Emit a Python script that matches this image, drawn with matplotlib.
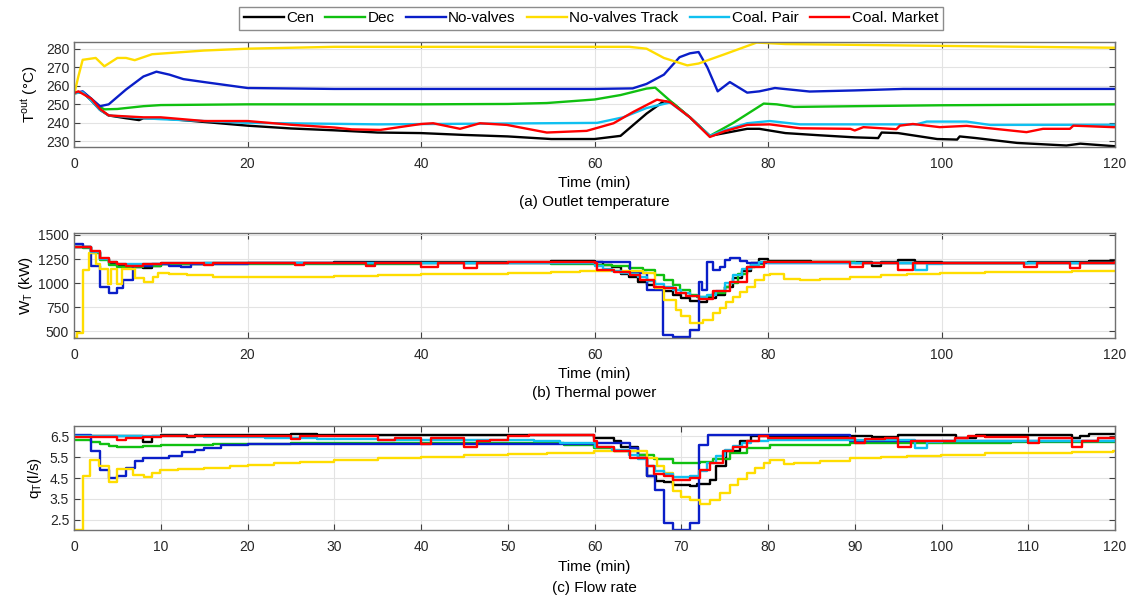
import numpy as np
import matplotlib
matplotlib.use("Agg")
import matplotlib.pyplot as plt

plt.rcParams.update({
    'font.family': ['Liberation Sans', 'DejaVu Sans'],
    'font.size': 10,
    'axes.edgecolor': '#707070',
    'xtick.color': '#404040',
    'ytick.color': '#404040',
    'xtick.labelcolor': '#262626',
    'ytick.labelcolor': '#262626',
})

names = ['Cen', 'Dec', 'No-valves', 'No-valves Track', 'Coal. Pair', 'Coal. Market']
colors = ['#000000', '#10c010', '#0a1ec8', '#ffdd00', '#10c0f0', '#ff0000']

# ---- (a) outlet temperature, (t [min], T [degC])
cen_a = [(0, 256), (1, 256.5), (2, 252), (3, 247), (4, 244), (6, 242.5), (7.5, 241.5), (8, 242.5),
         (10, 242.5), (15, 240.5), (20, 238.5), (25, 237), (30, 236), (35, 234.8), (40, 234.5),
         (45, 233.5), (50, 232.7), (55, 231.3), (60, 231.3), (63, 233), (66, 245), (68, 251.7),
         (69, 250.7), (71, 243), (73.3, 233), (75, 234.5), (77.6, 236.8), (79, 236.8), (82, 234.5),
         (86, 233.3), (90, 232.2), (92.7, 231.8), (93.1, 234.8), (95, 234.5), (99.5, 231.3),
         (101.8, 231), (102.1, 232.7), (104, 231.8), (108.7, 229.2), (114.4, 227.8), (116, 228.8),
         (120, 227.4)]
dec_a = [(0, 256), (1, 256.5), (2, 253), (3, 248.5), (3.5, 247.3), (5, 247.5), (8, 249), (10, 249.6),
         (20, 250), (40, 250), (50, 250.2), (54.5, 250.7), (60, 252.6), (63, 255), (66, 258.5),
         (67, 259), (68.7, 252), (71, 243), (73.3, 233), (76, 240), (79.5, 250.4), (81, 250),
         (83, 248.6), (90, 249), (100, 249.5), (120, 250)]
novalves_a = [(0, 256), (1, 257), (2, 253), (3, 249), (4, 250), (6, 258), (8, 265), (9.5, 267.6),
              (11, 266), (12.6, 263.6), (15, 262), (20, 258.8), (30, 258.3), (60, 258.3), (64.4, 258.6),
              (66, 261), (68, 266), (69.8, 275.4), (71, 277.5), (72, 278.2), (73, 270), (74.2, 257),
              (75.6, 262), (77.6, 256.3), (79, 257), (80.8, 258.8), (84.8, 256.9), (90, 257.5),
              (95.6, 258.3), (120, 258.3)]
track_a = [(0, 255), (0.5, 265), (1, 274), (2.5, 275), (3.5, 270.5), (5, 275), (6, 275), (7, 273.8),
           (9, 277), (12, 278), (15, 279), (20, 280), (30, 281), (64, 281), (66, 280), (68, 275),
           (70.7, 271), (72, 272), (75, 277), (78.7, 283.3), (80, 283), (82, 282.5), (100, 281.5),
           (120, 280.5)]
pair_a = [(0, 256), (1, 256.5), (2, 252), (3, 247), (4, 244), (8, 242.5), (10, 242), (15, 241),
          (20, 240), (30, 239.5), (35, 239.2), (60.3, 240), (63.3, 243), (66, 248), (68.7, 251),
          (71, 243), (73.3, 233), (75, 236), (77.6, 239.8), (80.2, 241), (83.7, 239.2), (97.1, 239.2),
          (98.3, 240.7), (102.9, 240.7), (105.6, 238.9), (120, 239)]
market_a = [(0, 256), (0.5, 257), (2, 253), (3, 247.5), (4, 244), (8, 243), (10, 243), (15, 241),
            (20, 241), (25, 239), (30, 237.5), (32, 236.5), (35.3, 236.2), (40, 239.4), (41.4, 239.8),
            (44.5, 236.8), (46.8, 239.8), (49.9, 238.9), (54.5, 234.8), (59.1, 235.7), (62.2, 239.8),
            (64.5, 246), (67.2, 252.5), (68.7, 251.2), (71, 243), (73.3, 232.4), (75, 235.5),
            (77.6, 238.9), (80.2, 239.2), (83.7, 237.1), (89.5, 236.8), (90, 235.9), (91, 237.7),
            (94.8, 236.6), (95.2, 238.5), (96.7, 239.4), (99.8, 237.7), (102.9, 238.4), (109.8, 235),
            (111.7, 236.8), (114.8, 236.8), (115.2, 238.5), (119.8, 237.7), (120, 237.7)]

# ---- (b) thermal power, (t [min], W [kW])
cen_b = [(0, 1380), (1, 1370), (2, 1320), (3, 1250), (4, 1210), (5, 1190), (6, 1180), (7, 1170),
         (8, 1160), (9, 1180), (10, 1200), (15, 1205), (20, 1210), (30, 1215), (40, 1215), (50, 1220),
         (55, 1225), (60, 1220), (61, 1190), (62, 1172), (63, 1100), (64, 1060), (65, 1017), (66, 983),
         (67, 950), (68, 914), (69, 880), (70, 845), (71, 820), (72, 810), (73, 845), (74, 879),
         (75, 960), (76, 1052), (77, 1130), (78, 1207), (79, 1249), (80, 1225), (85, 1220), (90, 1215),
         (92, 1180), (93, 1215), (95, 1240), (97, 1215), (100, 1205), (105, 1210), (110, 1215),
         (115, 1220), (117, 1225), (120, 1230)]
dec_b = [(0, 1370), (1, 1360), (2, 1310), (3, 1240), (4, 1190), (5, 1170), (6, 1165), (8, 1180),
         (10, 1195), (20, 1200), (40, 1205), (55, 1200), (60, 1185), (62, 1175), (64, 1160),
         (65.6, 1138), (67, 1085), (68, 1035), (69, 985), (69.8, 931), (71, 880), (71.8, 856),
         (73, 870), (73.7, 897), (75, 960), (75.6, 1000), (76.5, 1090), (77.6, 1172), (78.5, 1200),
         (79.5, 1224), (80, 1215), (90, 1210), (120, 1210)]
novalves_b = [(0, 1410), (1, 1380), (2, 1183), (3, 965), (4, 903), (5, 949), (5.7, 1035), (6.8, 1180),
              (9, 1200), (11, 1180), (12.3, 1172), (13.5, 1200), (20, 1205), (40, 1205), (59.9, 1215),
              (64.1, 1104), (66, 931), (67.9, 462), (69.1, 442), (71, 518), (72, 1017), (72.4, 931),
              (73, 1224), (73.7, 1138), (74.5, 1172), (75, 1240), (75.6, 1259), (76.8, 1234),
              (77.6, 1207), (80, 1205), (120, 1205)]
track_b = [(0, 430), (0.35, 480), (1.0, 1140), (1.7, 1310), (2.5, 1200), (3.0, 1150), (3.9, 990),
           (4.3, 1150), (4.9, 990), (5.5, 1150), (7.0, 1052), (8.1, 1017), (9.1, 1060), (9.7, 1110),
           (11, 1095), (13, 1080), (16, 1068), (20, 1060), (25, 1065), (30, 1070), (35, 1080),
           (40, 1090), (45, 1100), (50, 1110), (55, 1120), (58.3, 1131), (64, 1131),
           (65.6, 1104), (67, 949), (68, 828), (69.4, 724), (70, 655), (71, 587), (72.5, 621),
           (73.7, 690), (74.5, 740), (75.2, 800), (76, 862), (76.8, 910), (77.6, 965), (78.5, 1030),
           (79.5, 1086), (80.2, 1096), (81.8, 1042), (83.7, 1035), (86, 1045), (89.5, 1062),
           (93, 1080), (96, 1092), (99.8, 1104), (105, 1112), (110, 1120), (115, 1126), (120, 1131)]
pair_b = [(0, 1380), (1, 1375), (2, 1320), (3, 1250), (4, 1215), (5, 1200), (6, 1195), (8, 1200),
          (10, 1205), (20, 1210), (40, 1210), (60, 1180), (61, 1150), (62, 1130), (63, 1110),
          (64, 1090), (65, 1060), (66, 1020), (67, 990), (68, 965), (69, 930), (70, 900), (71, 870),
          (72, 862), (73, 880), (74, 920), (75, 1000), (76, 1080), (77, 1150), (78, 1190), (79, 1215),
          (80, 1210), (97, 1138), (98.3, 1200), (100, 1205), (120, 1205)]
market_b = [(0, 1380), (1, 1375), (2, 1330), (3, 1260), (4, 1215), (5, 1195), (6, 1180), (8, 1200),
            (10, 1205), (15, 1185), (16, 1205), (20, 1210), (25.5, 1185), (26.5, 1210), (30, 1210),
            (33.7, 1180), (34.7, 1210), (40, 1172), (42, 1210), (45, 1155), (46.5, 1210), (50, 1215),
            (60, 1205), (60.3, 1138), (62.2, 1120), (64.1, 1086), (65.3, 1035), (66.9, 965),
            (68, 949), (69.4, 897), (70.5, 869), (72, 835), (73.7, 914), (75.6, 1017), (77.6, 1172),
            (79.5, 1224), (80, 1215), (89.5, 1165), (91, 1210), (95, 1140), (96.7, 1210), (100, 1205),
            (109.5, 1165), (111, 1210), (114.8, 1160), (116, 1210), (120, 1215)]

# ---- (c) flow rate, (t [min], q [l/s])
cen_c = [(0, 6.5), (8, 6.25), (9, 6.5), (10, 6.55), (13, 6.45), (14, 6.55), (25, 6.6), (28, 6.58),
         (59.9, 6.42), (62.2, 6.26), (63, 6.0), (65, 5.62), (66, 4.58), (67.1, 4.34), (68, 4.31),
         (69.1, 4.15), (71, 4.13), (71.8, 4.22), (73.3, 4.42), (74, 5.06), (75.2, 5.78), (76.8, 6.26),
         (78, 6.5), (92, 6.45), (95, 6.55), (101.7, 6.42), (104, 6.55), (115, 6.4), (116, 6.5),
         (117, 6.6), (120, 6.6)]
dec_c = [(0, 6.35), (2, 6.25), (3, 6.15), (4, 6.05), (5, 6.0), (6, 5.97), (8, 6.02), (10, 6.07),
         (13, 6.1), (16, 6.13), (20, 6.15), (25, 6.17), (30, 6.18), (52.5, 6.2), (56.5, 6.1),
         (59.9, 5.94), (62.2, 5.78), (65, 5.62), (66.9, 5.43), (69.1, 5.22), (71, 5.2), (72.2, 5.27),
         (73.7, 5.43), (75.6, 5.7), (77.6, 5.94), (80.2, 6.1), (89.5, 6.2), (108, 6.23), (120, 6.26)]
novalves_c = [(0, 6.55), (2, 5.8), (3, 4.9), (4, 4.5), (5, 4.6), (6, 4.98), (7, 5.3), (8, 5.45),
              (11, 5.55), (12.5, 5.75), (14, 5.85), (15, 5.95), (17, 6.1), (20, 6.15), (60, 6.2),
              (64.1, 5.94), (65, 5.46), (66, 4.58), (67, 3.94), (68, 2.34), (69, 2.02), (71, 2.34),
              (72, 6.1), (73.1, 6.58), (89.5, 6.29), (120, 6.29)]
track_c = [(0, 2.02), (1.0, 4.58), (1.85, 5.38), (2.9, 5.09), (4.0, 4.31), (4.9, 4.93), (6.8, 4.66),
           (8.1, 4.53), (9.0, 4.74), (9.9, 4.9), (12, 4.93), (15, 5.0), (18, 5.08), (20, 5.14),
           (23, 5.2), (26, 5.28), (30, 5.38), (35, 5.47), (40, 5.52), (45, 5.6), (50, 5.65),
           (54.5, 5.7), (59.9, 5.78), (64.5, 5.78), (66, 5.46), (67.2, 5.06), (68, 4.74),
           (69.1, 3.89), (70, 3.6), (71, 3.46), (72.2, 3.27), (73.3, 3.46), (74.5, 3.78), (75.6, 4.18),
           (76.5, 4.45), (77.6, 4.74), (78.5, 5.0), (79.5, 5.22), (80.2, 5.38), (81.8, 5.17),
           (83, 5.2), (86, 5.3), (89.5, 5.46), (93, 5.52), (96, 5.57), (99.9, 5.62), (105, 5.68),
           (110, 5.72), (115, 5.75), (119.8, 5.78), (120, 5.78)]
pair_c = [(0, 6.5), (15, 6.48), (22, 6.42), (28, 6.38), (35, 6.35), (45, 6.33), (53, 6.3), (56, 6.2),
          (60, 6.0), (62, 5.85), (64, 5.6), (65, 5.4), (66, 5.1), (67, 4.85), (68, 4.7), (69, 4.55),
          (71, 4.6), (72, 4.85), (73, 5.2), (74, 5.55), (75, 5.85), (76, 6.05), (77, 6.2), (78, 6.3),
          (80, 6.35), (97, 5.94), (98.3, 6.25), (100, 6.3), (120, 6.3)]
market_c = [(0, 6.45), (5, 6.35), (6, 6.42), (8, 6.45), (10, 6.5), (25, 6.38), (26, 6.5), (35, 6.35),
            (37, 6.42), (40, 6.15), (41.2, 6.42), (45, 5.98), (46.5, 6.26), (48, 6.35), (50, 6.5),
            (52.5, 6.55), (59.9, 6.26), (60.3, 5.97), (62.2, 5.78), (64.1, 5.46), (66, 5.06),
            (66.9, 4.7), (68, 4.58), (69.1, 4.42), (71, 4.5), (72.2, 4.9), (73.3, 5.22), (74.8, 5.78),
            (76, 5.98), (77.6, 6.26), (79, 6.5), (80, 6.42), (90, 6.2), (91.2, 6.38), (93.5, 6.42),
            (95, 5.98), (96.5, 6.3), (101.5, 6.42), (103, 6.5), (105, 6.48), (110, 6.18),
            (111.2, 6.42), (115, 5.98), (116.2, 6.3), (118, 6.42), (120, 6.42)]

panel_a = [cen_a, dec_a, novalves_a, track_a, pair_a, market_a]
panel_b = [cen_b, dec_b, novalves_b, track_b, pair_b, market_b]
panel_c = [cen_c, dec_c, novalves_c, track_c, pair_c, market_c]

fig = plt.figure(figsize=(11.32, 6.0), dpi=100)
W, H = 1132.0, 600.0


def make_ax(l, t, r, b):
    return fig.add_axes([l / W, 1 - b / H, (r - l) / W, (b - t) / H])


ax1 = make_ax(74, 42, 1115, 147)
ax2 = make_ax(74, 233, 1115, 338)
ax3 = make_ax(74, 426, 1115, 530)

handles = []
for k, series in enumerate(panel_a):
    d = np.array(series)
    h, = ax1.plot(d[:, 0], d[:, 1], color=colors[k], lw=1.7, label=names[k])
    handles.append(h)
for k, series in enumerate(panel_b):
    d = np.array(series)
    ax2.plot(d[:, 0], d[:, 1], color=colors[k], lw=1.7, drawstyle='steps-post')
for k, series in enumerate(panel_c):
    d = np.array(series)
    ax3.plot(d[:, 0], d[:, 1], color=colors[k], lw=1.7, drawstyle='steps-post')

ax1.set_ylim(227, 283.6)
ax1.set_yticks([230, 240, 250, 260, 270, 280])
ax1.set_xticks(np.arange(0, 121, 20))
ax1.set_ylabel(r'$\mathregular{T^{out}}$ (°C)', fontsize=11, labelpad=4)

ax2.set_ylim(432, 1520)
ax2.set_yticks([500, 750, 1000, 1250, 1500])
ax2.set_xticks(np.arange(0, 121, 20))
ax2.set_ylabel(r'$\mathregular{W_T}$ (kW)', fontsize=11, labelpad=2)

ax3.set_ylim(2.0, 7.0)
ax3.set_yticks([2.5, 3.5, 4.5, 5.5, 6.5])
ax3.set_xticks(np.arange(0, 121, 10))
ax3.set_ylabel(r'$\mathregular{q_T}$(l/s)', fontsize=11, labelpad=4)

captions = ['(a) Outlet temperature', '(b) Thermal power', '(c) Flow rate']
for ax, cap, off in zip([ax1, ax2, ax3], captions, [(-0.345, -0.52), (-0.345, -0.52), (-0.355, -0.56)]):
    ax.set_xlim(0, 120)
    ax.grid(True, color='#e3e3e3', lw=0.8)
    ax.set_axisbelow(True)
    ax.tick_params(direction='in', top=True, right=True, length=4, labelsize=10)
    ax.tick_params(axis='x', pad=7)
    for s in ax.spines.values():
        s.set_linewidth(1.0)
    ax.text(0.5, off[0], 'Time (min)', transform=ax.transAxes, ha='center', va='center', fontsize=11)
    ax.text(0.5, off[1], cap, transform=ax.transAxes, ha='center', va='center', fontsize=11)

leg = fig.legend(handles=handles, loc='center', bbox_to_anchor=(591 / W, 1 - 18.5 / H), ncol=6,
                 fontsize=11, frameon=True, fancybox=False, edgecolor='#707070',
                 handlelength=2.6, handletextpad=0.15, columnspacing=0.75, borderpad=0.3)
leg.get_frame().set_linewidth(1.0)

fig.savefig('out.png', dpi=100)
